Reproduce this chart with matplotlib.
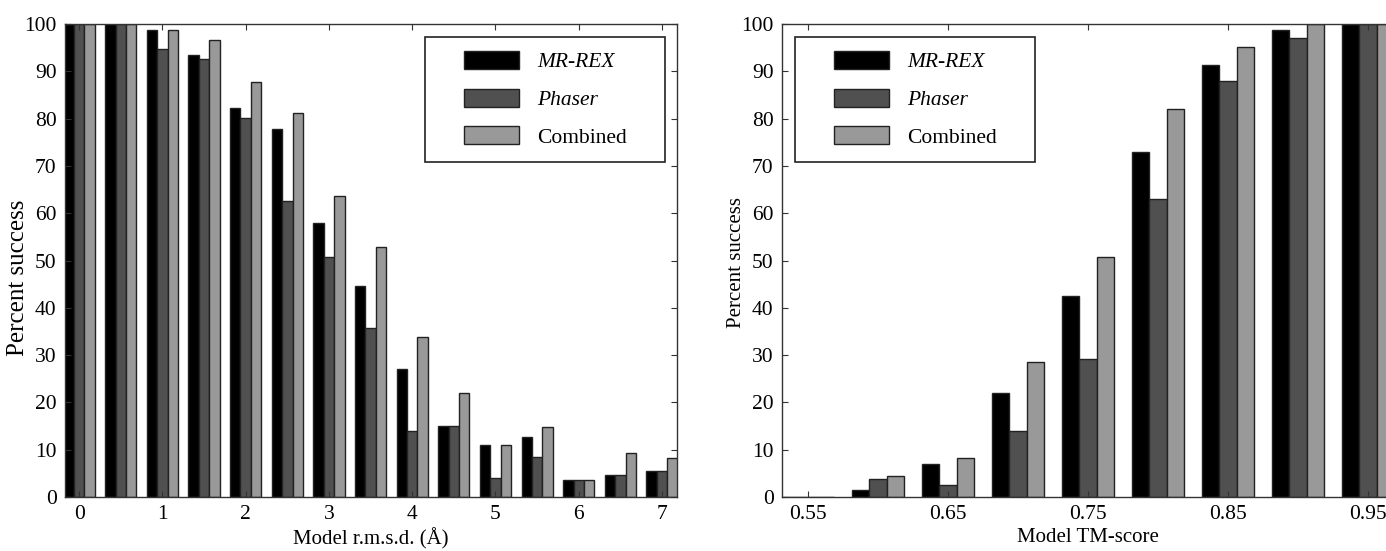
import numpy as np
import matplotlib
matplotlib.use("Agg")
import matplotlib.pyplot as plt
from matplotlib.patches import Rectangle

plt.rcParams['font.family'] = ['Liberation Serif', 'DejaVu Serif']
plt.rcParams['font.size'] = 15

# ---- data ----
series_names = ["MR-REX", "Phaser", "Combined"]
rmsd_bins = [0, 0.5, 1, 1.5, 2, 2.5, 3, 3.5, 4, 4.5, 5, 5.5, 6, 6.5, 7]
rmsd_mrrex = [100, 100, 98.7, 93.5, 82.3, 77.7, 57.9, 44.7, 27.1, 15.0, 11.0, 12.7, 3.6, 4.6, 5.6]
rmsd_phaser = [100, 100, 94.7, 92.6, 80.2, 62.5, 50.7, 35.7, 13.9, 15.0, 4.1, 8.5, 3.6, 4.6, 5.6]
rmsd_combined = [100, 100, 98.7, 96.6, 87.7, 81.2, 63.6, 52.9, 33.9, 21.9, 11.0, 14.8, 3.6, 9.2, 8.3]
rmsd_ticks = [0, 1, 2, 3, 4, 5, 6, 7]

tm_bins = [0.55, 0.60, 0.65, 0.70, 0.75, 0.80, 0.85, 0.90, 0.95]
tm_mrrex = [0, 1.5, 7.0, 21.9, 42.6, 72.9, 91.4, 98.7, 100]
tm_phaser = [0, 3.8, 2.5, 13.9, 29.1, 63.1, 87.9, 97.0, 100]
tm_combined = [0, 4.4, 8.2, 28.5, 50.7, 82.1, 95.1, 100, 100]
tm_ticks = [0.55, 0.65, 0.75, 0.85, 0.95]
tm_ticklabels = ["0.55", "0.65", "0.75", "0.85", "0.95"]

y_ticks = list(range(0, 101, 10))

colors = ["#000000", "#505050", "#999999"]
edge = "#222222"

W, H = 1386, 551
fig = plt.figure(figsize=(W / 100, H / 100), dpi=100)

ax1 = fig.add_axes([65 / W, 1 - 497 / H, 612 / W, 473 / H])
ax2 = fig.add_axes([782 / W, 1 - 497 / H, 612 / W, 473 / H])


def draw(ax, bins, vals, width, xlim, ticks, ticklabels, xlabel, legend_frame,
         ylabel_size, ylabel_coords):
    x = np.asarray(bins, dtype=float)
    handles = []
    for i, (v, c) in enumerate(zip(vals, colors)):
        h = ax.bar(x + (i - 1) * width, v, width=width, color=c,
                   edgecolor=edge, linewidth=1.0, align="center",
                   label=series_names[i])
        handles.append(h)
    ax.set_xlim(*xlim)
    ax.set_ylim(0, 100)
    ax.set_xticks(ticks)
    ax.set_xticklabels(ticklabels)
    ax.set_yticks(y_ticks)
    ax.tick_params(direction="in", length=4, width=0.8, top=True, right=True,
                   labelsize=15.5, pad=6, color="#333333")
    for s in ax.spines.values():
        s.set_linewidth(1.0)
        s.set_color("#333333")
    ax.set_xlabel(xlabel, fontsize=15, labelpad=3)
    ax.set_ylabel("Percent success", fontsize=ylabel_size)
    ax.yaxis.set_label_coords(*ylabel_coords)
    # legend frame
    fx0, fy0, fx1, fy1 = legend_frame
    ax.add_patch(Rectangle((fx0, fy0), fx1 - fx0, fy1 - fy0, transform=ax.transAxes,
                           facecolor="white", edgecolor="#222222", linewidth=1.2,
                           zorder=5))
    leg = ax.legend(handles, series_names, loc="upper left",
                    bbox_to_anchor=(fx0 + 39 / 612, fy1 - 14 / 473),
                    frameon=False, borderpad=0, borderaxespad=0,
                    handlelength=2.55, handleheight=0.9, handletextpad=0.85,
                    labelspacing=0.76, fontsize=15.5)
    leg.set_zorder(6)
    for t in leg.get_texts()[:2]:
        t.set_fontstyle("italic")
    return leg


draw(ax1, rmsd_bins, [rmsd_mrrex, rmsd_phaser, rmsd_combined], 0.125,
     (-0.17, 7.18), rmsd_ticks, [str(t) for t in rmsd_ticks],
     "Model r.m.s.d. (Å)",
     ((425 - 65) / 612, (497 - 162) / 473, (665 - 65) / 612, (497 - 37) / 473),
     18, ((29 - 65) / 612, (497 - 278) / 473))

draw(ax2, tm_bins, [tm_mrrex, tm_phaser, tm_combined], 0.0125,
     (0.5314, 0.9686), tm_ticks, tm_ticklabels,
     "Model TM-score",
     ((795 - 782) / 612, (497 - 162) / 473, (1035 - 782) / 612, (497 - 37) / 473),
     15, ((746 - 782) / 612, (497 - 262.5) / 473))

fig.savefig("out.png", dpi=100)
